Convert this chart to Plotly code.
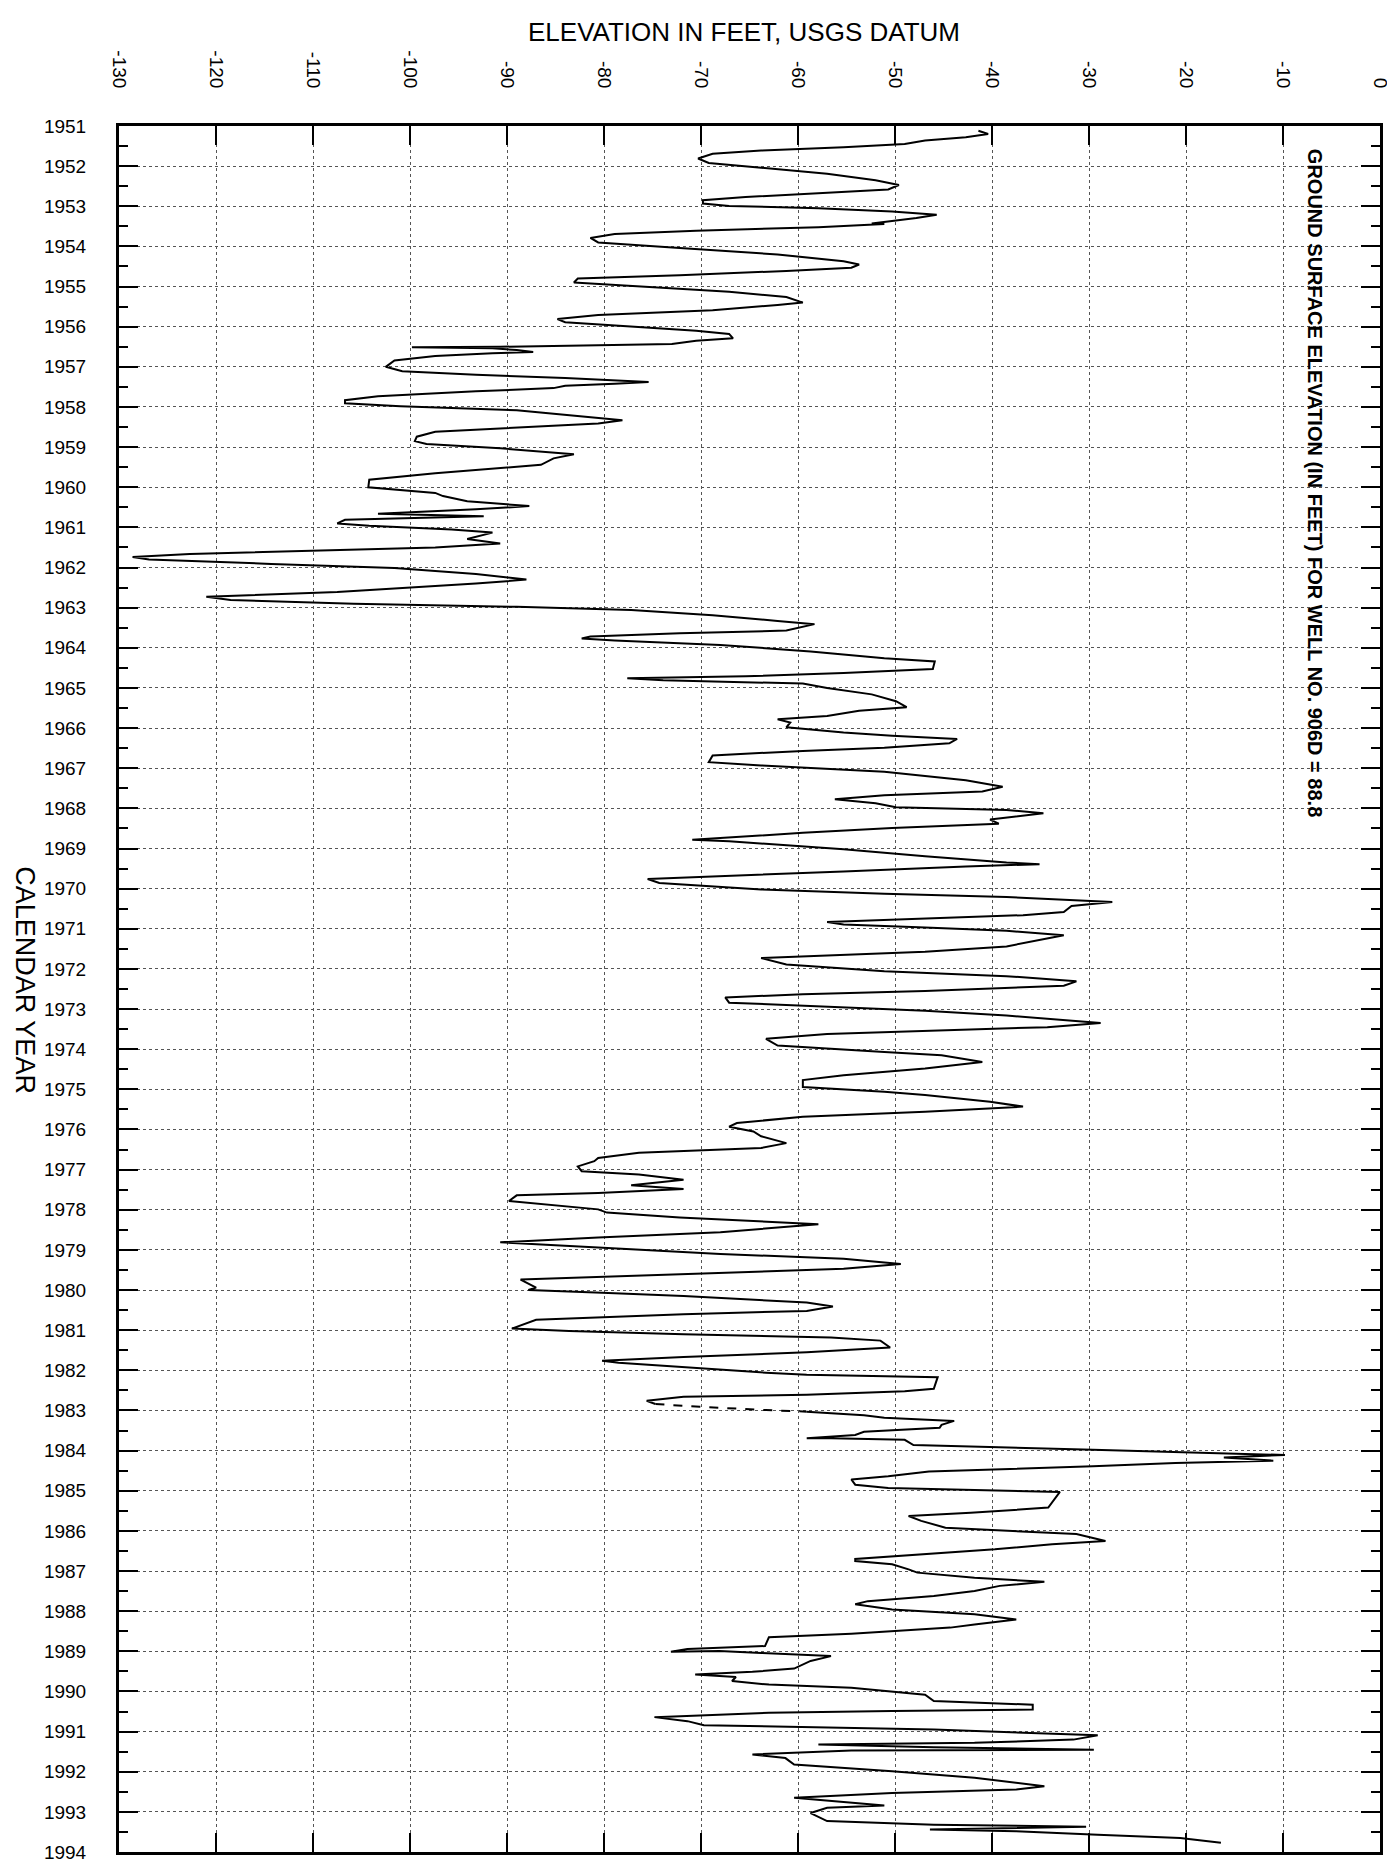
import plotly.graph_objects as go

years_a = [
    1951.12, 1951.20, 1951.28, 1951.36, 1951.45, 1951.53, 1951.61, 1951.69, 1951.81, 1951.92,
    1952.04, 1952.19, 1952.35, 1952.47, 1952.58, 1952.66, 1952.77, 1952.85, 1952.93, 1952.99,
    1953.05, 1953.13, 1953.21, 1953.29, 1953.38, 1953.43, 1953.44, 1953.52, 1953.61, 1953.69,
    1953.79, 1953.90, 1954.04, 1954.20, 1954.37, 1954.45, 1954.53, 1954.61, 1954.72, 1954.80,
    1954.90, 1954.99, 1955.13, 1955.26, 1955.40, 1955.46, 1955.59, 1955.71, 1955.81, 1955.89,
    1956.00, 1956.10, 1956.18, 1956.29, 1956.35, 1956.43, 1956.46, 1956.50, 1956.51, 1956.54,
    1956.58, 1956.63, 1956.66, 1956.73, 1956.84, 1957.00, 1957.11, 1957.20, 1957.28, 1957.34,
    1957.38, 1957.42, 1957.47, 1957.53, 1957.61, 1957.73, 1957.83, 1957.91, 1957.98, 1958.08,
    1958.33, 1958.41, 1958.52, 1958.62, 1958.74, 1958.85, 1958.92, 1959.03, 1959.18, 1959.28,
    1959.44, 1959.56, 1959.65, 1959.81, 1960.00, 1960.14, 1960.22, 1960.35, 1960.47, 1960.55,
    1960.66, 1960.72, 1960.76, 1960.81, 1960.90, 1960.96, 1961.05, 1961.13, 1961.29, 1961.40,
    1961.50, 1961.58, 1961.66, 1961.74, 1961.80, 1961.91, 1962.01, 1962.16, 1962.30, 1962.40,
    1962.61, 1962.73, 1962.81, 1962.90, 1962.98, 1963.06, 1963.19, 1963.33, 1963.41, 1963.57,
    1963.64, 1963.72, 1963.77, 1963.82, 1963.93, 1964.09, 1964.26, 1964.34, 1964.53, 1964.63,
    1964.71, 1964.76, 1964.81, 1964.89, 1965.00, 1965.16, 1965.33, 1965.48, 1965.57, 1965.70,
    1965.78, 1965.86, 1965.98, 1966.11, 1966.19, 1966.27, 1966.38, 1966.49, 1966.57, 1966.68,
    1966.85, 1966.93, 1967.09, 1967.30, 1967.46, 1967.58, 1967.67, 1967.77, 1967.87, 1967.97,
    1968.04, 1968.12, 1968.28, 1968.38, 1968.49, 1968.61, 1968.78, 1968.82, 1969.02, 1969.19,
    1969.35, 1969.39, 1969.45, 1969.57, 1969.76, 1969.86, 1970.02, 1970.13, 1970.21, 1970.33,
    1970.43, 1970.58, 1970.66, 1970.83, 1970.89, 1970.97, 1971.05, 1971.16, 1971.32, 1971.44,
    1971.57, 1971.73, 1971.89, 1972.06, 1972.18, 1972.31, 1972.42, 1972.55, 1972.63, 1972.71,
    1972.84, 1972.96, 1973.04, 1973.16, 1973.35, 1973.45, 1973.54, 1973.62, 1973.74, 1973.91,
    1974.07, 1974.15, 1974.32, 1974.48, 1974.65, 1974.77, 1974.94, 1975.06, 1975.14, 1975.31,
    1975.43, 1975.56, 1975.68, 1975.84, 1975.93, 1976.05, 1976.17, 1976.34, 1976.46, 1976.54,
    1976.58, 1976.71, 1976.79, 1976.92, 1977.04, 1977.12, 1977.25, 1977.39, 1977.48, 1977.58,
    1977.64, 1977.78, 1977.91, 1977.99, 1978.07, 1978.19, 1978.36, 1978.56, 1978.69, 1978.81,
    1978.94, 1979.10, 1979.22, 1979.35, 1979.47, 1979.54, 1979.60, 1979.74, 1979.94, 1980.00,
    1980.07, 1980.15, 1980.31, 1980.41, 1980.52, 1980.60, 1980.74, 1980.96, 1981.02, 1981.10,
    1981.18, 1981.26, 1981.43, 1981.55, 1981.67, 1981.76, 1981.81, 1981.92, 1982.06, 1982.11,
    1982.17, 1982.46, 1982.52, 1982.61, 1982.66, 1982.76, 1982.84,
]
elev_a = [
    -41.4, -40.4, -42.7, -46.9, -49.0, -55.3, -63.8, -68.8, -70.3, -69.2,
    -63.8, -57.0, -52.0, -49.6, -50.7, -57.0, -65.4, -69.8, -69.8, -67.1,
    -57.9, -50.3, -45.7, -47.8, -51.1, -52.4, -51.1, -57.9, -70.5, -78.9,
    -81.4, -80.6, -72.2, -62.1, -55.3, -53.7, -54.5, -61.2, -72.2, -82.7,
    -83.1, -76.4, -67.1, -61.2, -59.5, -62.1, -68.8, -80.6, -84.8, -84.0,
    -77.2, -70.5, -67.1, -66.7, -70.5, -73.0, -80.6, -90.7, -99.8, -91.5,
    -89.0, -87.3, -91.5, -97.4, -101.6, -102.5, -100.8, -93.2, -84.0, -78.1,
    -75.4, -78.9, -84.0, -85.2, -93.2, -103.3, -106.7, -106.7, -101.0, -89.0,
    -78.1, -80.6, -89.0, -97.4, -99.3, -99.5, -98.3, -90.7, -83.1, -85.2,
    -86.5, -92.4, -97.4, -104.2, -104.3, -97.4, -96.6, -94.1, -87.7, -93.2,
    -103.3, -92.4, -99.1, -106.7, -107.5, -104.2, -95.7, -91.5, -94.1, -90.7,
    -97.4, -110.1, -122.7, -128.6, -126.9, -114.3, -101.6, -93.2, -88.0, -93.2,
    -107.5, -121.0, -118.5, -105.8, -89.0, -77.2, -68.8, -62.1, -58.3, -61.2,
    -72.2, -81.4, -82.3, -78.9, -68.0, -58.7, -51.1, -45.9, -46.1, -55.3,
    -65.4, -77.6, -73.9, -59.5, -57.0, -52.4, -49.9, -48.8, -53.7, -57.0,
    -62.1, -60.8, -61.2, -55.3, -50.3, -43.6, -44.4, -51.1, -59.5, -68.8,
    -69.2, -63.8, -51.1, -42.7, -38.9, -41.0, -51.1, -56.2, -52.0, -49.9,
    -38.5, -34.7, -40.2, -39.3, -50.3, -59.5, -70.9, -67.1, -55.3, -46.9,
    -38.5, -35.1, -42.7, -55.3, -75.5, -74.3, -63.8, -51.1, -38.5, -27.6,
    -31.8, -32.6, -36.8, -57.0, -55.3, -46.9, -38.5, -32.6, -36.0, -38.5,
    -46.9, -63.8, -61.2, -51.1, -38.5, -31.3, -32.6, -46.9, -59.5, -67.5,
    -67.1, -55.3, -46.9, -38.5, -28.8, -34.3, -46.9, -57.0, -63.3, -62.1,
    -51.1, -45.2, -41.0, -46.9, -55.3, -59.5, -59.5, -51.1, -46.9, -40.2,
    -36.8, -46.9, -59.5, -66.3, -67.1, -64.6, -63.8, -61.2, -63.8, -72.2,
    -76.4, -80.6, -81.0, -82.7, -82.3, -76.4, -71.8, -77.2, -71.8, -80.6,
    -89.0, -89.8, -84.0, -80.6, -79.7, -72.2, -57.9, -68.0, -80.6, -90.7,
    -80.6, -68.0, -55.3, -49.4, -55.3, -63.8, -73.0, -88.6, -87.0, -87.8,
    -80.2, -71.8, -59.1, -56.4, -59.1, -71.8, -87.0, -89.5, -83.6, -71.8,
    -56.6, -51.5, -50.5, -59.1, -71.8, -80.2, -78.5, -71.8, -63.3, -59.1,
    -45.6, -46.0, -49.0, -59.1, -71.8, -75.6, -74.7,
]

# short stretch drawn dashed in the original (estimated record)
years_est = [1982.84, 1982.91, 1982.99, 1983.03]
elev_est = [-74.7, -70.1, -63.3, -59.1]

years_b = [
    1983.03, 1983.12, 1983.18, 1983.26, 1983.36, 1983.43, 1983.53, 1983.61, 1983.69, 1983.69,
    1983.73, 1983.86, 1983.98, 1984.11, 1984.17, 1984.25, 1984.31, 1984.39, 1984.52, 1984.64,
    1984.72, 1984.85, 1984.93, 1985.03, 1985.42, 1985.55, 1985.63, 1985.75, 1985.92, 1986.00,
    1986.08, 1986.25, 1986.33, 1986.46, 1986.58, 1986.70, 1986.75, 1986.83, 1986.96, 1987.04,
    1987.17, 1987.27, 1987.37, 1987.50, 1987.62, 1987.75, 1987.83, 1987.96, 1988.08, 1988.21,
    1988.33, 1988.41, 1988.56, 1988.65, 1988.87, 1988.94, 1989.01, 1988.99, 1989.04, 1989.12,
    1989.24, 1989.43, 1989.51, 1989.58, 1989.64, 1989.74, 1989.83, 1989.91, 1990.08, 1990.24,
    1990.33, 1990.45, 1990.49, 1990.53, 1990.64, 1990.74, 1990.84, 1990.95, 1991.09, 1991.20,
    1991.28, 1991.32, 1991.39, 1991.45, 1991.47, 1991.57, 1991.66, 1991.82, 1991.99, 1992.15,
    1992.36, 1992.44, 1992.53, 1992.65, 1992.84, 1992.90, 1993.03, 1993.23, 1993.32, 1993.37,
    1993.44, 1993.48, 1993.57, 1993.65, 1993.77,
]
elev_b = [
    -59.1, -53.2, -51.1, -43.9, -45.2, -45.4, -53.2, -54.1, -59.1, -56.6,
    -49.0, -48.1, -29.6, -9.8, -16.1, -11.0, -21.1, -29.6, -46.5, -50.7,
    -54.5, -54.1, -50.7, -33.0, -34.2, -42.2, -48.6, -47.3, -44.8, -38.0,
    -31.3, -28.3, -33.8, -39.7, -46.5, -54.1, -54.1, -50.3, -48.6, -47.7,
    -41.8, -34.6, -39.2, -41.8, -46.0, -52.8, -54.1, -50.3, -41.8, -37.5,
    -41.8, -44.3, -54.5, -63.0, -63.4, -71.4, -73.1, -68.1, -63.8, -56.6,
    -58.7, -60.4, -64.7, -70.6, -66.4, -66.8, -63.0, -54.5, -46.9, -46.0,
    -35.8, -35.8, -50.3, -63.0, -74.8, -71.4, -69.7, -46.0, -29.1, -31.6,
    -41.8, -57.9, -46.0, -29.5, -54.5, -64.7, -61.3, -60.4, -50.3, -41.8,
    -34.6, -37.5, -50.3, -60.4, -51.1, -57.0, -58.7, -57.0, -46.0, -30.3,
    -46.4, -37.5, -29.1, -20.6, -16.4,
]

year_ticks = list(range(1951, 1995))
year_labels = [str(y) for y in year_ticks]
elev_ticks = list(range(-130, 1, 10))
elev_labels = [str(v) for v in elev_ticks]

# ---------------- figure ----------------
fig = go.Figure()
line_style = dict(color="black", width=2)
fig.add_trace(go.Scatter(x=elev_a, y=years_a, mode="lines", line=line_style, hoverinfo="skip"))
fig.add_trace(go.Scatter(x=elev_est, y=years_est, mode="lines",
                         line=dict(color="black", width=2, dash="dash"), hoverinfo="skip"))
fig.add_trace(go.Scatter(x=elev_b, y=years_b, mode="lines", line=line_style, hoverinfo="skip"))

axis_common = dict(
    showline=True, linewidth=3, linecolor="black", mirror="allticks",
    ticks="inside", ticklen=19, tickwidth=2, tickcolor="black",
    showgrid=True, gridcolor="#555555", gridwidth=1, griddash="dot",
    zeroline=False,
)

fig.update_xaxes(
    side="top", range=[-130, 0], tickmode="array", tickvals=elev_ticks, ticktext=elev_labels,
    tickangle=90, tickfont=dict(family="Arial", size=19, color="black"),
    ticklabelstandoff=28, **axis_common,
)
fig.update_yaxes(
    range=[1994, 1951], tickmode="array", tickvals=year_ticks, ticktext=year_labels,
    tickfont=dict(family="Arial", size=19, color="black"),
    ticklabelstandoff=26,
    minor=dict(tickvals=[y + 0.5 for y in year_ticks[:-1]], ticks="inside", ticklen=9,
               tickwidth=2, tickcolor="black", showgrid=False),
    **axis_common,
)

fig.update_layout(
    width=1395, height=1867,
    margin=dict(l=111, r=19, t=118, b=13),
    plot_bgcolor="white", paper_bgcolor="white",
    showlegend=False,
    font=dict(family="Arial", color="black"),
    annotations=[
        dict(text="ELEVATION IN FEET, USGS DATUM", xref="paper", yref="paper",
             x=0.496, y=1.0545, xanchor="center", yanchor="middle", showarrow=False,
             font=dict(family="Arial", size=26, color="black")),
        dict(text="CALENDAR YEAR", xref="paper", yref="paper",
             x=-0.0745, y=0.505, xanchor="center", yanchor="middle", showarrow=False,
             textangle=90, font=dict(family="Arial", size=27, color="black")),
        dict(text="<b>GROUND SURFACE ELEVATION (IN FEET) FOR WELL NO. 906D = 88.8</b>",
             xref="paper", yref="paper", x=0.948, y=0.793, xanchor="center", yanchor="middle",
             showarrow=False, textangle=90,
             font=dict(family="Arial", size=20, color="black")),
    ],
)

fig.write_html("out.html")
